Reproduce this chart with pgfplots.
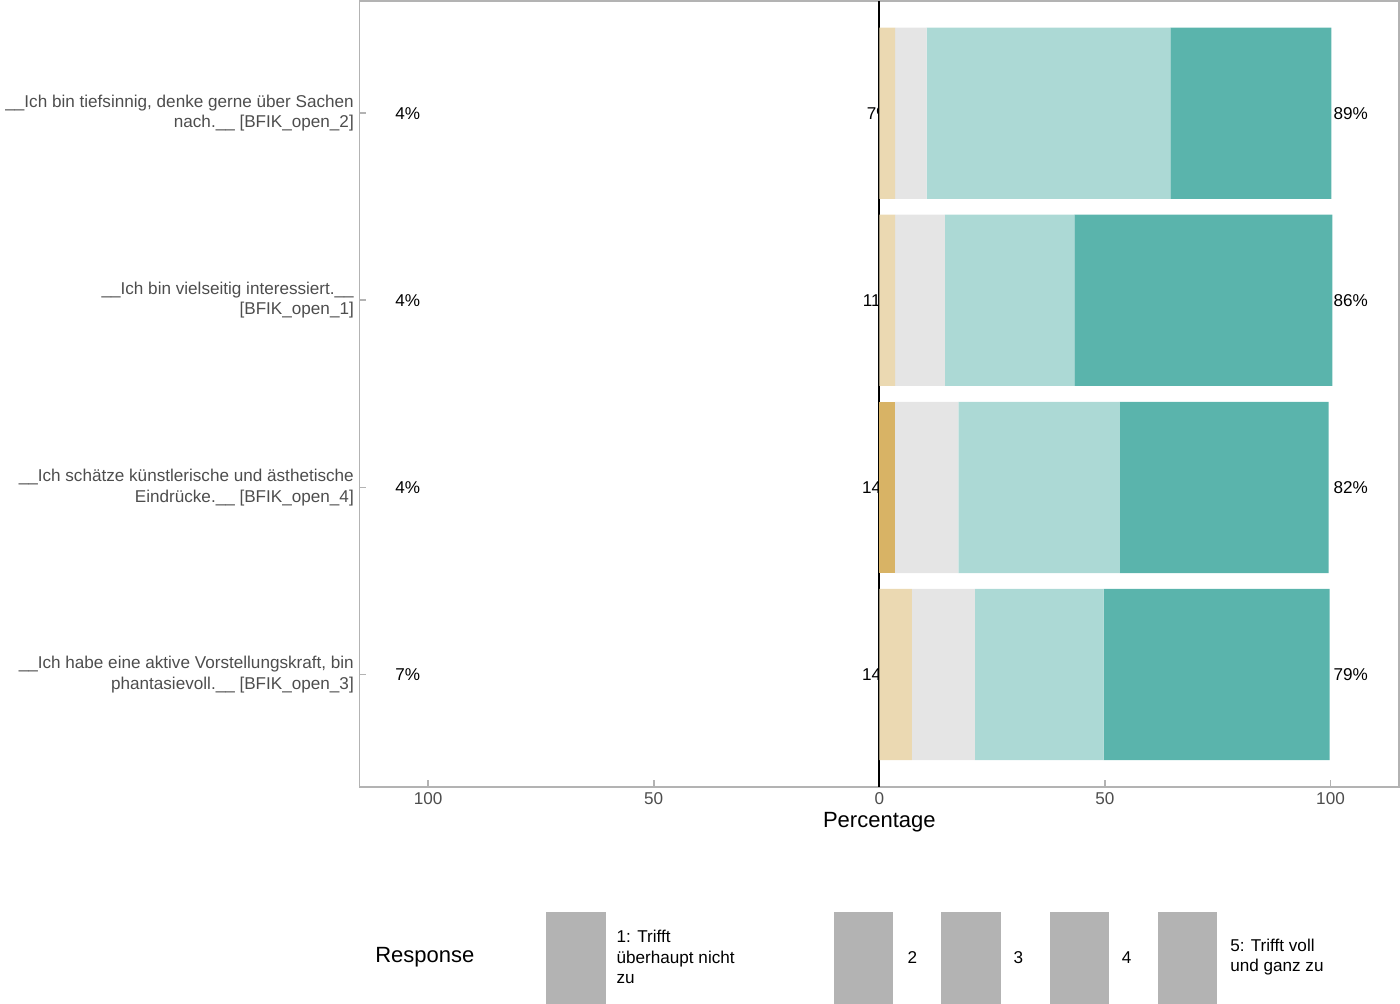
\documentclass[border=0pt]{standalone}
\usepackage{pgfplots}
\pgfplotsset{compat=1.18}
\usepackage{fontspec}
\setmainfont{Liberation Sans}
\definecolor{cA}{HTML}{D8B365}
\definecolor{cB}{HTML}{EBD9B2}
\definecolor{cC}{HTML}{E5E5E5}
\definecolor{cD}{HTML}{ACD9D5}
\definecolor{cE}{HTML}{5AB4AC}
\definecolor{fr}{HTML}{B3B3B3}
\definecolor{tk}{HTML}{4D4D4D}
\newcommand{\pct}[4]{%
  \node[font=\fontsize{10.5}{12}\selectfont] at (axis cs:-104.5,#1) {#2\%};
  \node[font=\fontsize{10.5}{12}\selectfont] at (axis cs:0,#1) {#3\%};
  \node[font=\fontsize{10.5}{12}\selectfont] at (axis cs:104.5,#1) {#4\%};}
\newcommand{\lbox}[2]{%
  \fill[fr] (axis cs:#2-6.6,-0.27) rectangle (axis cs:#2+6.6,-0.76);
  \fill[#1] (axis cs:#2-5.6,-0.29) rectangle (axis cs:#2+5.6,-0.74);}
\begin{document}
\begin{tikzpicture}
\begin{axis}[
  scale only axis, width=637.5pt, height=482pt,
  xbar stacked, bar width=105pt,
  xmin=-115.2, xmax=115.2, ymin=0.4, ymax=4.6,
  xtick={-100,-50,0,50,100}, xticklabels={100,50,0,50,100},
  ytick={1,2,3,4},
  yticklabels={{\_\_Ich habe eine aktive Vorstellungskraft, bin\\phantasievoll.\_\_ [BFIK\_open\_3]},
    {\_\_Ich schätze künstlerische und ästhetische\\Eindrücke.\_\_ [BFIK\_open\_4]},
    {\_\_Ich bin vielseitig interessiert.\_\_\\{}[BFIK\_open\_1]},
    {\_\_Ich bin tiefsinnig, denke gerne über Sachen\\nach.\_\_ [BFIK\_open\_2]}},
  yticklabel style={align=right, font=\fontsize{10.5}{12.5}\selectfont, text=tk},
  xticklabel style={font=\fontsize{10.5}{12.5}\selectfont, text=tk},
  /pgf/number format/assume math mode=true,
  major tick length=4pt, tick style={fr, line width=1pt}, tick pos=left,
  axis line style={fr, line width=1.1pt},
  xlabel={Percentage}, xlabel style={font=\fontsize{13.5}{15}\selectfont, yshift=2pt},
  clip=false,
]
\addplot[draw=none, fill=none] coordinates {(-14.2,1) (-10.5,2) (-9,3) (-7,4)};
\addplot[draw=none, fill=cA] coordinates {(0,1) (3.5,2) (0,3) (0,4)};
\addplot[draw=none, fill=cB] coordinates {(7.2,1) (0,2) (3.5,3) (3.5,4)};
\addplot[draw=none, fill=cC] coordinates {(14,1) (14,2) (11,3) (7,4)};
\addplot[draw=none, fill=cD] coordinates {(28.5,1) (35.8,2) (28.7,3) (54,4)};
\addplot[draw=none, fill=cE] coordinates {(50.1,1) (46.3,2) (57.2,3) (35.7,4)};
\draw[black, line width=1.1pt] (axis cs:0,0.4) -- (axis cs:0,4.6);
\pct{1}{7}{14}{79}
\pct{2}{4}{14}{82}
\pct{3}{4}{11}{86}
\pct{4}{4}{7}{89}
\node[font=\fontsize{13.5}{15}\selectfont, anchor=west] at (axis cs:-113,-0.51) {Response};
\lbox{cA}{-67.2}
\lbox{cB}{-3.5}
\lbox{cC}{20.3}
\lbox{cD}{44.4}
\lbox{cE}{68.3}
\node[font=\fontsize{10.5}{12.5}\selectfont, anchor=west, align=left] at (axis cs:-59.5,-0.51) {1: Trifft\\überhaupt nicht\\zu};
\node[font=\fontsize{10.5}{12.5}\selectfont, anchor=west] at (axis cs:5,-0.51) {2};
\node[font=\fontsize{10.5}{12.5}\selectfont, anchor=west] at (axis cs:28.5,-0.51) {3};
\node[font=\fontsize{10.5}{12.5}\selectfont, anchor=west] at (axis cs:52.5,-0.51) {4};
\node[font=\fontsize{10.5}{12.5}\selectfont, anchor=west, align=left] at (axis cs:76.5,-0.51) {5: Trifft voll\\und ganz zu};
\end{axis}
\end{tikzpicture}
\end{document}
